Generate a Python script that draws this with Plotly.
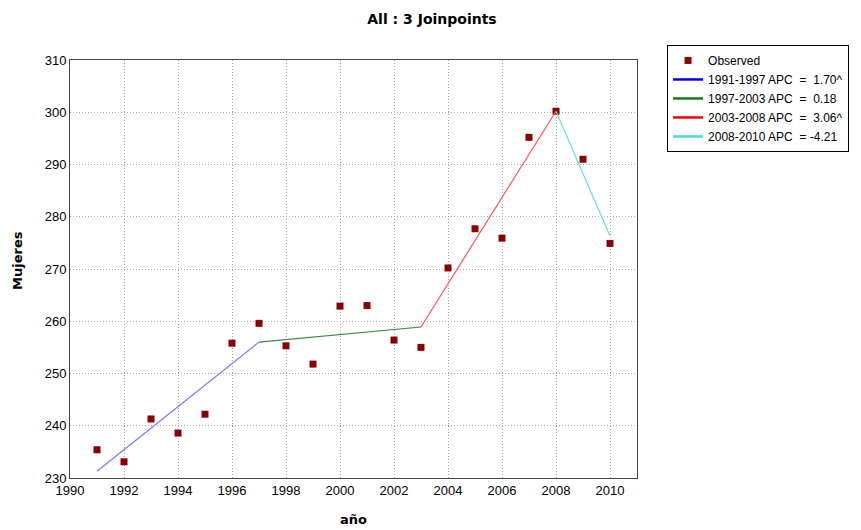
import plotly.graph_objects as go

years = [1991, 1992, 1993, 1994, 1995, 1996, 1997, 1998, 1999, 2000,
         2001, 2002, 2003, 2004, 2005, 2006, 2007, 2008, 2009, 2010]
observed = [235.4, 233.1, 241.3, 238.6, 242.2, 255.8, 259.6, 255.3, 251.8, 262.9,
            263.0, 256.4, 255.0, 270.2, 277.7, 275.9, 295.2, 300.2, 291.0, 274.9]

seg_labels = ["1991-1997 APC  =  1.70^", "1997-2003 APC  =  0.18",
              "2003-2008 APC  =  3.06^", "2008-2010 APC  = -4.21"]
seg_years = [[1991, 1997], [1997, 2003], [2003, 2008], [2008, 2010]]
seg_values = [[231.3, 256.0], [256.0, 258.9], [258.9, 300.2], [300.2, 276.3]]
seg_colors = ["#0000ff", "#1a7a1a", "#ff0000", "#40e0d0"]
seg_line_colors = ["#7777ff", "#3a8a3a", "#ff5555", "#66ddd5"]

fig = go.Figure()
fig.add_trace(go.Scatter(x=years, y=observed, mode="markers", name="Observed",
                         marker=dict(symbol="square", size=7, color="#8b0000")))
for lab, xs, ys, c, lc in zip(seg_labels, seg_years, seg_values, seg_colors, seg_line_colors):
    fig.add_trace(go.Scatter(x=xs, y=ys, mode="lines", name=lab,
                             line=dict(color=lc, width=1.2), showlegend=False))
    fig.add_trace(go.Scatter(x=[None], y=[None], mode="lines", name=lab,
                             line=dict(color=c, width=2.5)))

grid = dict(showgrid=True, gridcolor="#aaaaaa", griddash="1px,2px", gridwidth=1,
            showline=True, linecolor="#444444", linewidth=1, mirror=True,
            zeroline=False, ticks="", automargin=False,
            tickfont=dict(family="Liberation Sans, Arial", size=13, color="#000"))

fig.update_layout(
    width=861, height=530,
    margin=dict(l=62, r=232, t=52, b=60, autoexpand=False),
    paper_bgcolor="white", plot_bgcolor="white",
    title=dict(text="<b>All : 3 Joinpoints</b>", x=(432 - 8) / 861, xanchor="center",
               y=1 - 11 / 530, yanchor="middle",
               font=dict(family="DejaVu Sans", size=14, color="#000")),
    xaxis=dict(range=[1990, 2011], tickvals=list(range(1990, 2011, 2)),
               title=dict(text="<b>año</b>", font=dict(family="DejaVu Sans", size=13, color="#000"), standoff=18),
               **grid),
    yaxis=dict(range=[230, 310], tickvals=list(range(230, 311, 10)), **grid),
    legend=dict(x=1.053, y=1.036, xanchor="left", yanchor="top",
                bordercolor="#000", borderwidth=1, bgcolor="white",
                font=dict(family="Liberation Sans, Arial", size=12, color="#000"),
                tracegroupgap=0, itemwidth=30),
    annotations=[dict(text="<b>Mujeres</b>", textangle=-90, showarrow=False,
                      xref="paper", yref="paper",
                      x=(17 - 70) / 567, y=(478 - 261) / 418,
                      xanchor="center", yanchor="middle",
                      font=dict(family="DejaVu Sans", size=13, color="#000"))],
)

fig.write_html("out.html")
